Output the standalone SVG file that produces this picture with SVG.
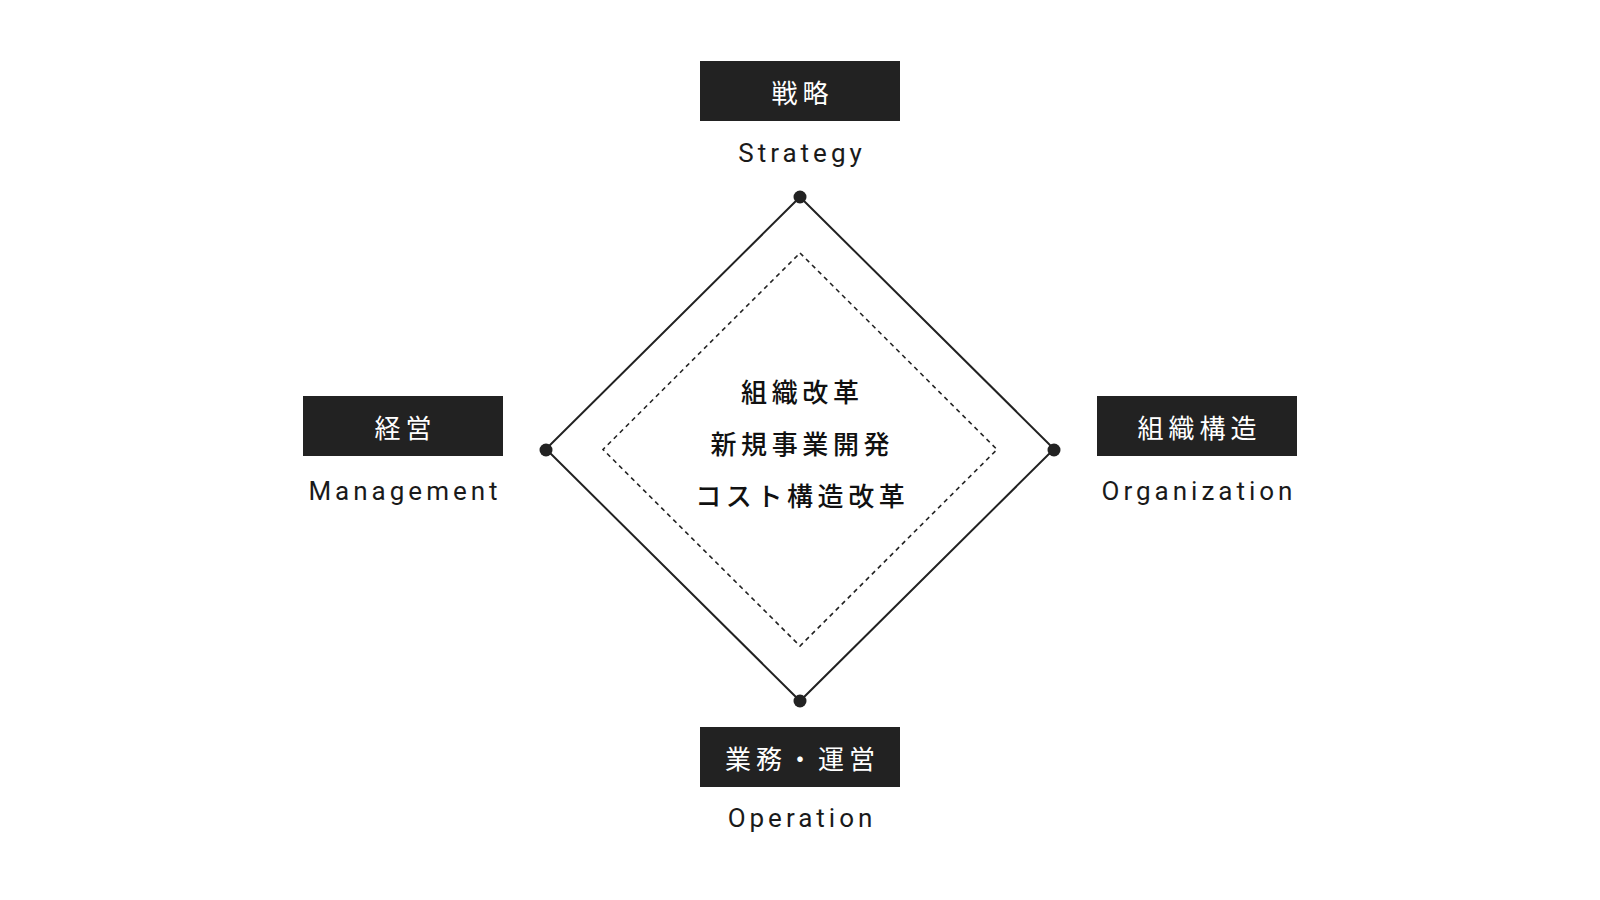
<svg xmlns="http://www.w3.org/2000/svg" width="1600" height="900" viewBox="0 0 1600 900">
<style>
.box{fill:#222222}
.jp{font-family:"Noto Sans CJK JP","Noto Sans",sans-serif;font-size:26px;fill:#ffffff;letter-spacing:5px;text-anchor:middle}
.en{font-family:Roboto,"Liberation Sans",sans-serif;font-size:26px;fill:#1a1a1a;letter-spacing:4px;text-anchor:middle}
.ctr{font-family:"Noto Sans CJK JP","Noto Sans",sans-serif;font-size:26px;font-weight:500;fill:#111111;letter-spacing:4.6px;text-anchor:middle}
.outer{fill:none;stroke:#222222;stroke-width:2}
.inner{fill:none;stroke:#222222;stroke-width:1.6;stroke-dasharray:4.5 4}
.dot{fill:#222222}
</style>
<rect width="1600" height="900" fill="#ffffff"/>
<g id="connectors">
<polygon class="outer" points="800,197 1054,449 800,701 546,449"/>
<polygon class="inner" points="800,253 997,449.5 800,646 603,449.5"/>
<circle class="dot" cx="800" cy="197" r="6.5"/>
<circle class="dot" cx="1054" cy="450" r="6.5"/>
<circle class="dot" cx="800" cy="701" r="6.5"/>
<circle class="dot" cx="546" cy="450" r="6.5"/>
</g>
<g id="node-strategy">
<rect class="box" x="700" y="61" width="200" height="60"/>
<text class="jp" x="802.5" y="102.5">戦略</text>
<text class="en" x="802" y="162">Strategy</text>
</g>
<g id="node-management">
<rect class="box" x="303" y="396" width="200" height="60"/>
<text class="jp" x="405.5" y="437.5">経営</text>
<text class="en" x="405" y="500">Management</text>
</g>
<g id="node-organization">
<rect class="box" x="1097" y="396" width="200" height="60"/>
<text class="jp" x="1199.5" y="437.5">組織構造</text>
<text class="en" x="1199" y="500">Organization</text>
</g>
<g id="node-operation">
<rect class="box" x="700" y="727" width="200" height="60"/>
<text class="jp" x="802.5" y="768.5">業務・運営</text>
<text class="en" x="802" y="827">Operation</text>
</g>
<g id="node-center">
<text class="ctr" x="802.3" y="401.5">組織改革</text>
<text class="ctr" x="802.3" y="453.5">新規事業開発</text>
<text class="ctr" x="802.3" y="505.5">コスト構造改革</text>
</g>
</svg>
